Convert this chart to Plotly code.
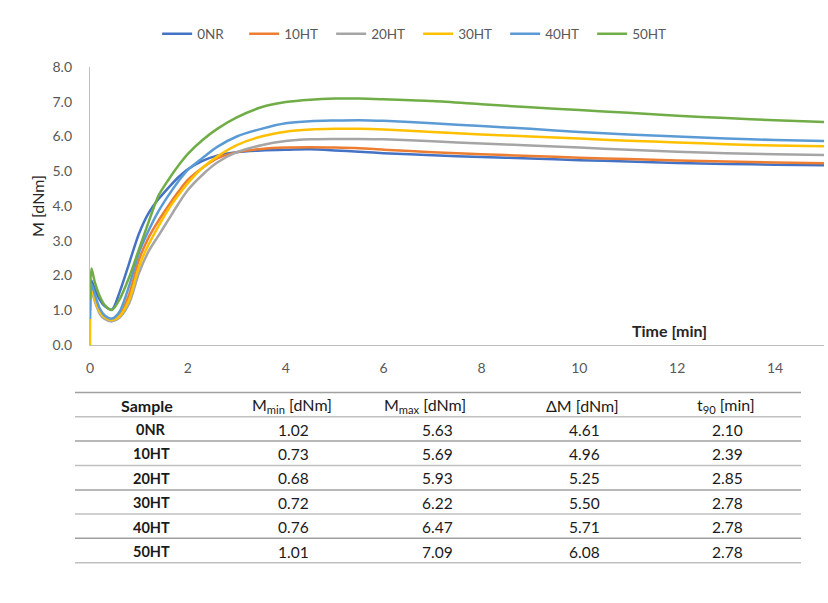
import plotly.graph_objects as go

# Cure time axis (min) shared by all rheometer curves
time_min = [0, 0.03, 0.1, 0.2, 0.3, 0.45, 0.6, 0.8, 1.0, 1.2, 1.4, 1.6, 1.8, 2.0,
            2.3, 2.6, 3.0, 3.5, 4.0, 4.5, 5.0, 5.5, 6, 7, 8, 9, 10, 11, 12, 13, 14, 15]

# Torque M [dNm] for each compound
m_0nr = [1.4, 1.85, 1.6, 1.3, 1.12, 1.02, 1.5, 2.35, 3.2, 3.8, 4.2, 4.52, 4.82, 5.06,
         5.3, 5.45, 5.55, 5.6, 5.62, 5.63, 5.6, 5.56, 5.52, 5.46, 5.41, 5.37, 5.32,
         5.28, 5.24, 5.21, 5.19, 5.17]
m_10ht = [1.0, 1.6, 1.3, 0.95, 0.8, 0.73, 0.85, 1.45, 2.45, 3.1, 3.58, 4.0, 4.4, 4.75,
          5.1, 5.37, 5.55, 5.64, 5.68, 5.69, 5.68, 5.66, 5.62, 5.55, 5.49, 5.44, 5.39,
          5.35, 5.31, 5.28, 5.25, 5.23]
m_20ht = [1.0, 1.55, 1.25, 0.9, 0.75, 0.68, 0.78, 1.2, 2.07, 2.7, 3.15, 3.6, 4.05, 4.46,
          4.9, 5.25, 5.55, 5.75, 5.87, 5.92, 5.93, 5.93, 5.92, 5.86, 5.8, 5.74, 5.68,
          5.62, 5.56, 5.52, 5.49, 5.47]
m_30ht = [0.0, 1.6, 1.3, 0.95, 0.8, 0.72, 0.82, 1.3, 2.25, 2.9, 3.42, 3.9, 4.3, 4.66,
          5.1, 5.42, 5.75, 6.0, 6.14, 6.2, 6.22, 6.22, 6.2, 6.13, 6.06, 6.0, 5.94,
          5.88, 5.83, 5.78, 5.74, 5.72]
m_40ht = [0.75, 1.75, 1.45, 1.05, 0.85, 0.76, 0.95, 1.7, 2.65, 3.3, 3.85, 4.3, 4.7, 5.04,
          5.38, 5.7, 6.0, 6.22, 6.38, 6.44, 6.46, 6.47, 6.45, 6.38, 6.3, 6.22, 6.13,
          6.06, 6.0, 5.94, 5.9, 5.87]
m_50ht = [1.3, 2.2, 1.8, 1.4, 1.15, 1.01, 1.3, 1.95, 2.75, 3.55, 4.3, 4.75, 5.15, 5.5,
          5.9, 6.22, 6.55, 6.84, 6.99, 7.06, 7.09, 7.09, 7.07, 7.02, 6.93, 6.84, 6.76,
          6.68, 6.6, 6.53, 6.47, 6.42]

series_names = ["0NR", "10HT", "20HT", "30HT", "40HT", "50HT"]
series_values = [m_0nr, m_10ht, m_20ht, m_30ht, m_40ht, m_50ht]
series_colors = ["#4472C4", "#ED7D31", "#A5A5A5", "#FFC000", "#5B9BD5", "#70AD47"]

# Summary table of cure characteristics
table_headers = ["Sample", "M<sub>min</sub> [dNm]", "M<sub>max</sub> [dNm]",
                 "ΔM [dNm]", "t<sub>90</sub> [min]"]
m_min = [1.02, 0.73, 0.68, 0.72, 0.76, 1.01]
m_max = [5.63, 5.69, 5.93, 6.22, 6.47, 7.09]
delta_m = [4.61, 4.96, 5.25, 5.50, 5.71, 6.08]
t90 = [2.10, 2.39, 2.85, 2.78, 2.78, 2.78]

x_ticks = [0, 2, 4, 6, 8, 10, 12, 14]

FONT = "Lato, 'Liberation Sans', sans-serif"
W, H = 828, 603
L, R, T, B = 90, 4, 67, 258
PW, PH = W - L - R, H - T - B


def px(xp):
    return (xp - L) / PW


def py(yp):
    return (H - B - yp) / PH


def label(x, y, text, size=15, color="#1a1a1a", **kw):
    return dict(x=px(x), y=py(y), xref="paper", yref="paper", text=text,
                showarrow=False, xanchor="center", yanchor="middle",
                font=dict(family=FONT, size=size, color=color), **kw)


fig = go.Figure()
for name, vals, col in zip(series_names, series_values, series_colors):
    fig.add_trace(go.Scatter(
        x=time_min, y=vals, name=name, mode="lines",
        line=dict(color=col, width=2.5, shape="spline", smoothing=0.8),
    ))

shapes = []
annotations = []

# Axis labels
annotations.append(label(37, 206, "M [dNm]", size=16, color="#262626", textangle=-90))
annotations.append(label(669, 330, "<b>Time [min]</b>", size=16, color="#262626"))

# Table rules and text
left_x, right_x = 75, 801
rule_y = [392.5, 416.7, 441, 465.5, 490, 514, 538.3, 562.7]
for i, ry in enumerate(rule_y):
    shapes.append(dict(type="line", xref="paper", yref="paper",
                       x0=px(left_x), x1=px(right_x), y0=py(ry), y1=py(ry),
                       line=dict(color="#A0A0A0" if i % 2 == 0 else "#C0C0C0", width=1.6)))

header_cx = [147, 291.5, 425, 582, 726]
value_cx = [151, 293, 437, 584, 727]
header_y = 405
for cx, txt in zip(header_cx, table_headers):
    annotations.append(label(cx, header_y, f"<b>{txt}</b>" if txt == "Sample" else txt,
                             size=16))

row_h = 24.4
for r, name in enumerate(series_names):
    ry = 429.5 + r * row_h
    annotations.append(label(value_cx[0], ry, f"<b>{name}</b>", size=14.5))
    cells = [f"{m_min[r]:.2f}", f"{m_max[r]:.2f}", f"{delta_m[r]:.2f}", f"{t90[r]:.2f}"]
    for cx, txt in zip(value_cx[1:], cells):
        annotations.append(label(cx, ry, txt, size=15.5))

fig.update_layout(
    width=W, height=H,
    margin=dict(l=L, r=R, t=T, b=B, pad=0),
    paper_bgcolor="white", plot_bgcolor="white",
    showlegend=True,
    legend=dict(orientation="h", xref="container", yref="container",
                x=0.505, xanchor="center", y=1 - 34 / H, yanchor="middle",
                font=dict(family=FONT, size=13.5, color="#595959"),
                itemwidth=30, entrywidth=42, entrywidthmode="pixels",
                tracegroupgap=0),
    xaxis=dict(range=[0, 15], tickvals=x_ticks, showgrid=False, zeroline=False,
               showline=True, linecolor="#BFBFBF", linewidth=1.3, ticks="",
               ticklabelstandoff=10,
               tickfont=dict(family=FONT, size=14, color="#595959")),
    yaxis=dict(range=[0, 8], dtick=1, tickformat=".1f", showgrid=False, zeroline=False,
               showline=True, linecolor="#BFBFBF", linewidth=1.3, ticks="",
               ticklabelstandoff=14,
               tickfont=dict(family=FONT, size=14, color="#595959")),
    shapes=shapes, annotations=annotations,
)

fig.write_html("out.html")
